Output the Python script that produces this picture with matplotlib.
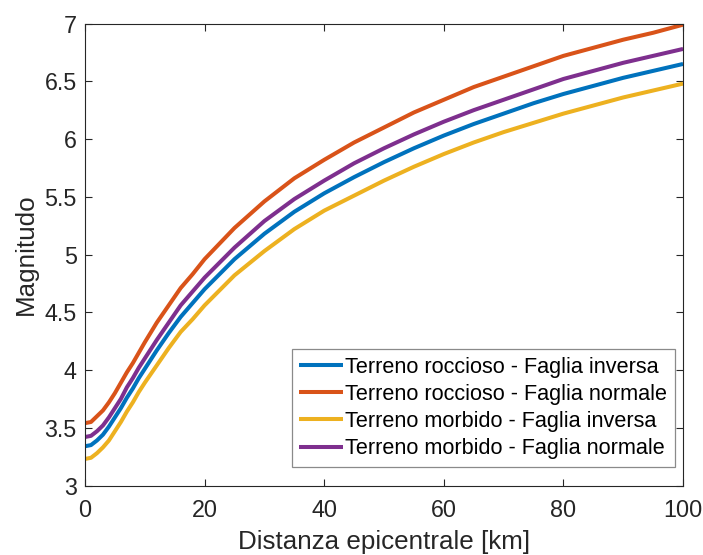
import matplotlib
matplotlib.use("Agg")
import matplotlib.pyplot as plt

plt.rcParams["font.family"] = ["Liberation Sans", "DejaVu Sans"]

# epicentral distance [km]
distanza = [0, 1, 2, 3, 4, 5, 6, 7, 8, 9, 10, 12, 14, 16, 18, 20, 25, 30, 35, 40,
            45, 50, 55, 60, 65, 70, 75, 80, 85, 90, 95, 100]

# magnitude for each soil / fault combination
roccioso_inversa = [3.34, 3.35, 3.39, 3.44, 3.51, 3.59, 3.67, 3.76, 3.84, 3.93, 4.01,
                    4.17, 4.32, 4.46, 4.58, 4.70, 4.96, 5.18, 5.37, 5.53, 5.67, 5.80,
                    5.92, 6.03, 6.13, 6.22, 6.31, 6.39, 6.46, 6.53, 6.59, 6.65]
roccioso_normale = [3.54, 3.55, 3.60, 3.65, 3.72, 3.80, 3.89, 3.98, 4.06, 4.15, 4.24,
                    4.41, 4.56, 4.71, 4.83, 4.96, 5.23, 5.46, 5.66, 5.82, 5.97, 6.10,
                    6.23, 6.34, 6.45, 6.54, 6.63, 6.72, 6.79, 6.86, 6.92, 6.99]
morbido_inversa = [3.23, 3.24, 3.28, 3.33, 3.39, 3.47, 3.55, 3.64, 3.72, 3.81, 3.89,
                   4.04, 4.19, 4.33, 4.44, 4.56, 4.82, 5.03, 5.22, 5.38, 5.51, 5.64,
                   5.76, 5.87, 5.97, 6.06, 6.14, 6.22, 6.29, 6.36, 6.42, 6.48]
morbido_normale = [3.42, 3.43, 3.47, 3.52, 3.59, 3.67, 3.75, 3.85, 3.93, 4.02, 4.10,
                   4.26, 4.41, 4.56, 4.68, 4.80, 5.06, 5.29, 5.48, 5.64, 5.79, 5.92,
                   6.04, 6.15, 6.25, 6.34, 6.43, 6.52, 6.59, 6.66, 6.72, 6.78]

labels = ["Terreno roccioso - Faglia inversa",
          "Terreno roccioso - Faglia normale",
          "Terreno morbido - Faglia inversa",
          "Terreno morbido - Faglia normale"]
colors = ["#0072BD", "#D95319", "#EDB120", "#7E2F8E"]

xticks = [0, 20, 40, 60, 80, 100]
yticks = [3, 3.5, 4, 4.5, 5, 5.5, 6, 6.5, 7]
ytick_labels = ["3", "3.5", "4", "4.5", "5", "5.5", "6", "6.5", "7"]

fig = plt.figure(figsize=(7.03, 5.55), dpi=100)
ax = fig.add_axes([0.1209, 0.1252, 0.8507, 0.8324])

series = [roccioso_inversa, roccioso_normale, morbido_inversa, morbido_normale]
for y, lab, col in zip(series, labels, colors):
    ax.plot(distanza, y, color=col, lw=2.9, label=lab, solid_capstyle="butt",
            solid_joinstyle="round")

ax.set_xlim(0, 100)
ax.set_ylim(3, 7)
ax.set_xticks(xticks)
ax.set_xticklabels([str(t) for t in xticks])
ax.set_yticks(yticks)
ax.set_yticklabels(ytick_labels)

axcol = "#262626"
for s in ax.spines.values():
    s.set_color(axcol)
    s.set_linewidth(0.8)
ax.tick_params(direction="in", length=5, width=0.8, colors=axcol,
               labelsize=16.8, top=True, right=True)
ax.tick_params(axis="x", pad=10)
ax.tick_params(axis="y", pad=6)

ax.set_xlabel("Distanza epicentrale [km]", fontsize=18.7, color=axcol)
ax.set_ylabel("Magnitudo", fontsize=18.7, color=axcol)
ax.xaxis.set_label_coords(0.5, -0.096)
ax.yaxis.set_label_coords(-0.079, 0.5)

leg = ax.legend(loc="lower right", bbox_to_anchor=(675 / 703, 1 - 466.7 / 555),
                bbox_transform=fig.transFigure, fontsize=15.6, frameon=True,
                fancybox=False, framealpha=1, borderaxespad=0, borderpad=0.35,
                handlelength=2.0, handletextpad=0.12, labelspacing=0.285)
leg.get_frame().set_edgecolor("#8a8a8a")
leg.get_frame().set_linewidth(0.9)

fig.savefig("out.png", dpi=100)
